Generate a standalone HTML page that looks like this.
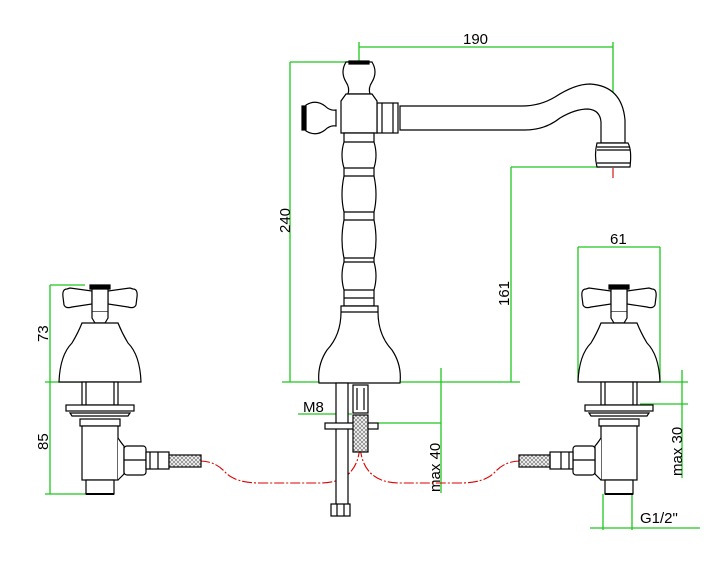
<!DOCTYPE html>
<html><head><meta charset="utf-8"><style>
html,body{margin:0;padding:0;background:#fff;width:720px;height:563px;overflow:hidden}
svg{display:block}
text{font-family:"Liberation Sans",sans-serif;font-size:15px;fill:#000}
</style></head><body>
<svg width="720" height="563" viewBox="0 0 720 563" xmlns="http://www.w3.org/2000/svg">
<defs>
<pattern id="br" width="4" height="4" patternUnits="userSpaceOnUse"><rect width="4" height="4" fill="#fff"/><path d="M0 0L4 4M4 0L0 4" stroke="#888" stroke-width="0.8"/></pattern>
<g id="valve" fill="#fff" stroke="#000" stroke-width="1.2">
  <!-- handle -->
  <path d="M-33 4 Q-38 4 -37 12 L-36 20 Q-34 24 -28 22 L-8 19 L-8 6 L-30 3 Z"/>
  <path d="M33 4 Q38 4 37 12 L36 20 Q34 24 28 22 L8 19 L8 6 L30 3 Z"/>
  <rect x="-8" y="3" width="16" height="24"/>
  <path d="M-10 0 H10 V4 H-10Z" fill="#000"/>
  <path d="M-8 27 L-8 33 L-5 38 H5 L8 33 L8 27"/>
  <path d="M-18 38 H18 Q22 48 28 58 Q40 70 41 97 H-41 Q-40 70 -28 58 Q-22 48 -18 38Z"/>
  <rect x="-18" y="97" width="36" height="23"/>
  <line x1="-14" y1="97" x2="-14" y2="120"/><line x1="14" y1="97" x2="14" y2="120"/>
  <rect x="-34" y="120" width="68" height="6"/>
  <path d="M-30 128 H30 L28 131 H-28Z"/>
  <rect x="-20" y="134" width="40" height="7"/>
  <rect x="-18" y="141" width="36" height="54"/>
  <rect x="-14" y="195" width="28" height="14"/>
  <line x1="-14" y1="209" x2="14" y2="209" stroke-width="2"/>
</g>
</defs>

<!-- green dimension lines -->
<g stroke="#1ec81e" stroke-width="1.3" fill="none">
  <path d="M359 47 H613 M359 42 V62 M613 42 V140"/>
  <path d="M290 62 H350 M290 62 V382 M282 382 H520"/>
  <path d="M511 167 H600 M511 167 V382"/>
  <path d="M441 368 V493 M378 423 H441 M298 414 H352"/>
  <path d="M50 285 H85 M50 285 V494 M45 382 H82 M45 494 H90"/>
  <path d="M578 247 H660 M578 247 V382 M660 247 V382"/>
  <path d="M682 370 V478 M640 382 H688 M640 404 H688"/>
  <path d="M603 494 V530 M632 494 V530 M590 528 H700"/>
</g>
<g>
  <text x="463" y="44">190</text>
  <text x="610" y="244">61</text>
  <text x="303" y="412">M8</text>
  <text x="640" y="523">G1/2"</text>
  <text transform="translate(290,233) rotate(-90)">240</text>
  <text transform="translate(509,306) rotate(-90)">161</text>
  <text transform="translate(48,342) rotate(-90)">73</text>
  <text transform="translate(48,450) rotate(-90)">85</text>
  <text transform="translate(440,492) rotate(-90)">max  40</text>
  <text transform="translate(682,476) rotate(-90)">max  30</text>
</g>

<!-- red hoses -->
<g stroke="#d00" stroke-width="1.1" fill="none" stroke-dasharray="10 2 2 2">
  <path d="M200 461 Q215 461 225 472 Q235 483 260 483 H320 Q358 483 360 445"/>
  <path d="M520 461 Q505 461 495 472 Q485 483 460 483 H400 Q362 483 360 445"/>
  <path d="M359 62 V103"/>
  <path d="M613 120 V180"/>
</g>

<!-- central faucet -->
<g fill="#fff" stroke="#000" stroke-width="1.2">
  <!-- spout -->
  <path d="M400 106 H522 Q540 106 555 97 Q575 84 590 84 Q622 86 625 120 V143 H601 V122 Q600 110 588 109 Q575 109 560 118 Q545 130 525 130 H400Z"/>
  <path d="M597 143 H628 Q632 150 630 167 H597 Q594 155 597 143Z"/>
  <line x1="597" y1="147" x2="630" y2="147"/><line x1="597" y1="150" x2="630" y2="150"/><line x1="597" y1="163" x2="630" y2="163"/>
  <!-- collar -->
  <rect x="377" y="103" width="21" height="30"/><line x1="382" y1="103" x2="382" y2="133"/><line x1="393" y1="103" x2="393" y2="133"/>
  <!-- left knob -->
  <path d="M306 105 Q316 99 325 106 Q330 111 336 110 V126 Q330 125 325 130 Q316 137 306 131 Q299 118 306 105Z"/>
  <rect x="302" y="106" width="4" height="24" fill="#000"/>
  <!-- top knob -->
  <path d="M346 62 H372 Q378 72 372 82 Q368 88 370 94 H348 Q350 88 346 82 Q340 72 346 62Z"/>
  <rect x="349" y="61" width="20" height="3" fill="#000"/>
  <!-- cross body -->
  <path d="M346 94 H372 L377 101 V133 H341 V101Z"/>
  <!-- column -->
  <path d="M344 133 H374 V142 Q378 155 374 168 V176 Q378 195 374 212 V220 Q378 240 374 258 V262 Q378 276 374 290 V306 H344 V290 Q340 276 344 262 V258 Q340 240 344 220 V212 Q340 195 344 176 V168 Q340 155 344 142Z"/>
  <path d="M344 142 H374 M344 168 H374 M344 176 H374 M344 212 H374 M344 220 H374 M344 258 H374 M344 262 H374 M344 290 H374 M344 298 H374"/>
  <!-- bell -->
  <path d="M341 306 H378 V312 Q378 335 392 350 Q402 365 400 383 H319 Q317 365 327 350 Q341 335 341 312Z"/>
  <line x1="341" y1="312" x2="378" y2="312"/>
  <!-- under parts -->
  <rect x="336" y="383" width="12" height="125"/>
  <rect x="331" y="504" width="19" height="12"/><line x1="337" y1="504" x2="337" y2="516"/><line x1="344" y1="504" x2="344" y2="516"/>
  <rect x="325" y="423" width="53" height="6"/>
  <rect x="353" y="385" width="15" height="28"/><line x1="357" y1="388" x2="357" y2="410"/><line x1="364" y1="388" x2="364" y2="410"/>
  <rect x="353" y="415" width="15" height="37" fill="url(#br)"/>
</g>

<!-- side valves -->
<use href="#valve" transform="translate(100,285)"/>
<use href="#valve" transform="translate(619,285)"/>

<!-- side connectors -->
<g fill="#fff" stroke="#000" stroke-width="1.2">
  <path d="M118 438 Q122 444 124 446 V474 Q122 476 118 480"/>
  <rect x="124" y="446" width="22" height="29" rx="3"/><line x1="124" y1="460" x2="146" y2="460"/>
  <rect x="146" y="452" width="23" height="17"/><line x1="150" y1="452" x2="150" y2="469"/><line x1="158" y1="452" x2="158" y2="469"/>
  <rect x="169" y="455" width="32" height="12" fill="url(#br)"/>
  <path d="M601 438 Q597 444 595 446 V474 Q597 476 601 480"/>
  <rect x="573" y="446" width="22" height="29" rx="3"/><line x1="573" y1="460" x2="595" y2="460"/>
  <rect x="550" y="452" width="23" height="17"/><line x1="569" y1="452" x2="569" y2="469"/><line x1="561" y1="452" x2="561" y2="469"/>
  <rect x="519" y="455" width="31" height="12" fill="url(#br)"/>
</g>
</svg>
</body></html>
